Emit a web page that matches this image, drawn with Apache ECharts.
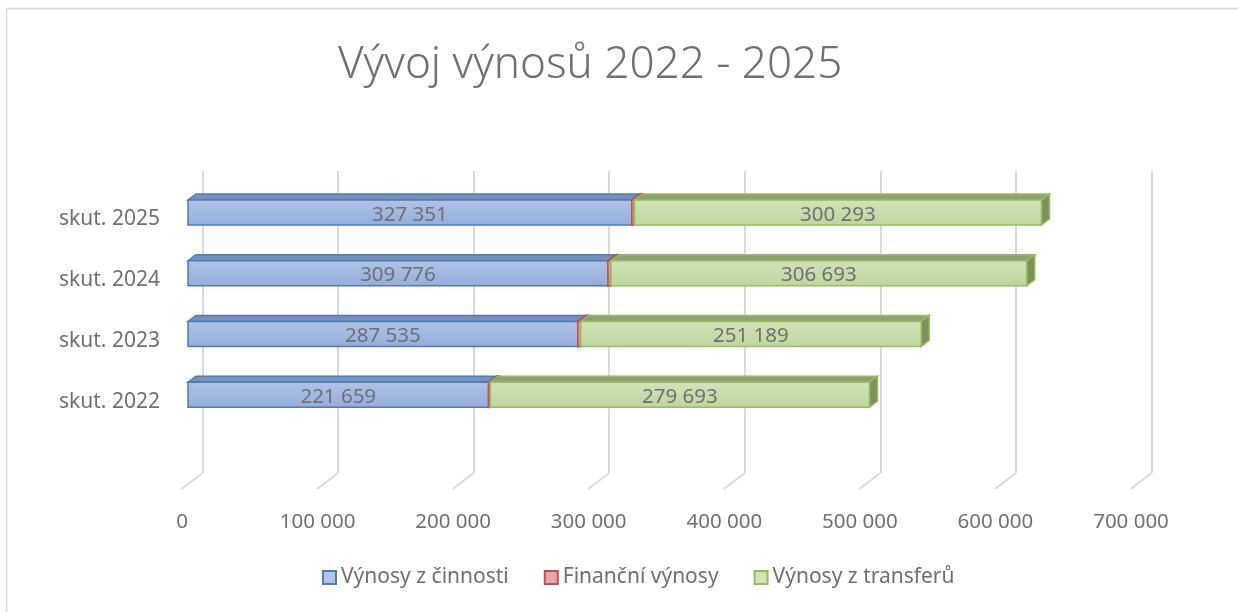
<!DOCTYPE html>
<html>
<head>
<meta charset="utf-8">
<script src="https://cdn.jsdelivr.net/npm/echarts@6/dist/echarts.min.js"></script>
<style>
  html, body { margin: 0; padding: 0; background: #fff; }
  #chart { width: 1238px; height: 612px; }
</style>
</head>
<body>
<div id="chart"></div>
<script>
var categories = ['skut. 2022', 'skut. 2023', 'skut. 2024', 'skut. 2025'];
var vynosyCinnosti = [221659, 287535, 309776, 327351];
var financniVynosy = [1300, 2100, 2200, 1900];
var vynosyTransferu = [279693, 251189, 306693, 300293];
var seriesNames = ['Výnosy z činnosti', 'Finanční výnosy', 'Výnosy z transferů'];
var ticks = [0, 100000, 200000, 300000, 400000, 500000, 600000, 700000];

var font = '"Noto Sans", "DejaVu Sans", sans-serif';
var textGray = '#707070';

// barvy ploch: přední, horní, bok, okraj
var looks = [
  { top: '#b0c4e5', bottom: '#94add9', lid: '#7890b8', side: '#5f7aa6', border: '#4a7ebb' },
  { top: '#e4a9a8', bottom: '#d98c8a', lid: '#b06a68', side: '#9a5553', border: '#c0504d' },
  { top: '#d2e3bb', bottom: '#bdd69f', lid: '#8f9f7c', side: '#7c9064', border: '#95bd5a' }
];

function buildData(idx) {
  var all = [vynosyCinnosti, financniVynosy, vynosyTransferu];
  return categories.map(function (c, i) {
    var start = 0;
    for (var k = 0; k < idx; k++) start += all[k][i];
    return [i, start, start + all[idx][i]];
  });
}

function fmt(v) {
  return String(v).replace(/\B(?=(\d{3})+(?!\d))/g, ' ');
}

function render3dBar(idx) {
  var lk = looks[idx];
  return function (params, api) {
    var cat = api.value(0), start = api.value(1), end = api.value(2);
    var p0 = api.coord([start, cat]);
    var p1 = api.coord([end, cat]);
    var h = 25, dx = 8, dy = 6;
    var yT = p0[1] - h / 2, yB = p0[1] + h / 2;
    var x0 = p0[0], x1 = p1[0];
    var children = [
      {
        type: 'polygon',
        shape: { points: [[x0, yT], [x1, yT], [x1 + dx, yT - dy], [x0 + dx, yT - dy]] },
        style: { fill: lk.lid, stroke: lk.border, lineWidth: 1.5 }
      },
      {
        type: 'polygon',
        shape: { points: [[x1, yT], [x1 + dx, yT - dy], [x1 + dx, yB - dy], [x1, yB]] },
        style: { fill: lk.side, stroke: lk.border, lineWidth: 1.5 }
      },
      {
        type: 'rect',
        shape: { x: x0, y: yT, width: x1 - x0, height: h },
        style: {
          fill: new echarts.graphic.LinearGradient(0, 0, 0, 1, [
            { offset: 0, color: lk.top },
            { offset: 1, color: lk.bottom }
          ]),
          stroke: lk.border,
          lineWidth: 1.5
        }
      }
    ];
    if (end - start > 50000) {
      children.push({
        type: 'text',
        style: {
          x: (x0 + x1) / 2, y: p0[1] + 2.5,
          text: fmt(end - start),
          fill: textGray,
          font: '20.5px ' + font,
          align: 'center', verticalAlign: 'middle'
        }
      });
    }
    return { type: 'group', children: children };
  };
}

// šikmé čáry mřížky u spodní hrany
function renderFloor(params, api) {
  var p = api.coord([api.value(0), 0]);
  return {
    type: 'line',
    shape: { x1: p[0], y1: p[1], x2: p[0] - 21, y2: p[1] + 16 },
    style: { stroke: '#d9d9d9', lineWidth: 2 }
  };
}

var chart = echarts.init(document.getElementById('chart'));

var series = seriesNames.map(function (name, idx) {
  return {
    name: name,
    type: 'custom',
    xAxisIndex: 0,
    yAxisIndex: 0,
    renderItem: render3dBar(idx),
    encode: { x: [1, 2], y: 0 },
    itemStyle: { color: looks[idx].top, borderColor: looks[idx].border, borderWidth: 2 },
    data: buildData(idx),
    z: 3
  };
});
series.push({
  type: 'custom',
  xAxisIndex: 1,
  yAxisIndex: 1,
  renderItem: renderFloor,
  encode: { x: 0 },
  data: ticks.map(function (t) { return [t]; }),
  silent: true,
  z: 1
});

chart.setOption({
  animation: false,
  title: {
    text: 'Vývoj výnosů 2022 - 2025',
    left: 333,
    top: 38,
    textStyle: { fontFamily: font, fontSize: 44, fontWeight: 300, color: textGray }
  },
  graphic: [{
    type: 'rect',
    left: 4, top: 6,
    shape: { width: 1250, height: 620 },
    style: { fill: 'none', stroke: '#d9d9d9', lineWidth: 1.5 },
    silent: true, z: -10
  }],
  legend: {
    data: seriesNames,
    bottom: 19,
    left: 317,
    icon: 'rect',
    itemWidth: 13,
    itemHeight: 13,
    itemGap: 35,
    textStyle: { fontFamily: font, fontSize: 21, color: textGray }
  },
  grid: [
    { left: 188, width: 949, top: 182, height: 243 },
    { left: 202.5, width: 949, top: 171, height: 302 },
    { left: 182, width: 949, top: 480, height: 10 },
    { left: 188, width: 949, top: 189, height: 243 }
  ],
  xAxis: [
    { type: 'value', gridIndex: 0, min: 0, max: 700000, interval: 100000, show: false },
    {
      type: 'value', gridIndex: 1, min: 0, max: 700000, interval: 100000,
      axisLine: { show: false }, axisTick: { show: false }, axisLabel: { show: false },
      splitLine: { show: true, lineStyle: { color: '#d9d9d9', width: 2 } }
    },
    {
      type: 'value', gridIndex: 2, min: 0, max: 700000, interval: 100000,
      axisLine: { show: false }, axisTick: { show: false }, splitLine: { show: false },
      axisLabel: {
        margin: 22, fontFamily: font, fontSize: 20.5, color: textGray,
        formatter: function (v) { return fmt(v); }
      }
    },
    { type: 'value', gridIndex: 3, min: 0, max: 700000, interval: 100000, show: false }
  ],
  yAxis: [
    { type: 'category', gridIndex: 0, data: categories, show: false },
    { type: 'value', gridIndex: 1, min: 0, max: 1, show: false },
    { type: 'value', gridIndex: 2, min: 0, max: 1, show: false },
    {
      type: 'category', gridIndex: 3, data: categories,
      axisLine: { show: false }, axisTick: { show: false }, splitLine: { show: false },
      axisLabel: { margin: 28, fontFamily: font, fontSize: 21, color: textGray }
    }
  ],
  series: series
});
</script>
</body>
</html>
